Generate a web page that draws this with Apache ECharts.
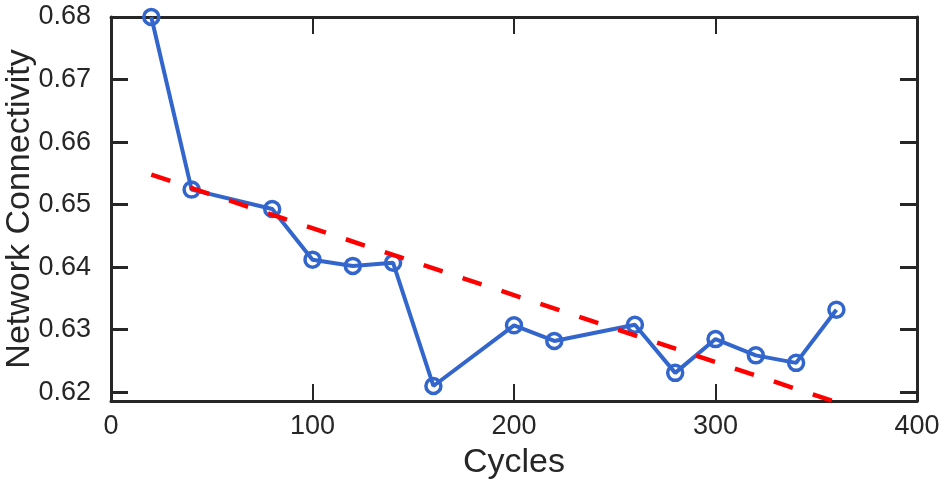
<!DOCTYPE html>
<html>
<head>
<meta charset="utf-8">
<script src="https://cdn.jsdelivr.net/npm/echarts@6/dist/echarts.min.js"></script>
<style>
  html, body { margin: 0; padding: 0; background: #fff; }
  #chart { width: 947px; height: 491px; }
</style>
</head>
<body>
<div id="chart"></div>
<script>
// data
var cycles = [20, 40, 80, 100, 120, 140, 160, 200, 220, 260, 280, 300, 320, 340, 360];
var connectivity = [0.6800, 0.6524, 0.6493, 0.6412, 0.6402, 0.6407, 0.6210, 0.6307, 0.6282,
                    0.6308, 0.6231, 0.6285, 0.6259, 0.6247, 0.6332];
var trendX = [20, 360];
var trendY = [0.6548, 0.6184];
var xTicks = [0, 100, 200, 300, 400];
var yTicks = [0.62, 0.63, 0.64, 0.65, 0.66, 0.67, 0.68];

var ink = '#262626';
var font = 'Liberation Sans, Arial, Helvetica, sans-serif';

var mainPts = cycles.map(function (c, i) { return [c, connectivity[i]]; });
var trendPts = trendX.map(function (c, i) { return [c, trendY[i]]; });

var chart = echarts.init(document.getElementById('chart'));

function xAx(pos, withLabels) {
  return {
    type: 'value', position: pos, min: 0, max: 400,
    name: withLabels ? 'Cycles' : '',
    nameLocation: 'middle', nameGap: 45, nameMoveOverlap: false,
    nameTextStyle: { color: ink, fontSize: 34, fontFamily: font },
    axisLine: { show: true, onZero: false, lineStyle: { color: ink, width: 3 } },
    axisTick: { show: true, inside: true, length: 17, lineStyle: { color: ink, width: 2 }, customValues: xTicks },
    axisLabel: { show: withLabels, color: ink, fontSize: 27, fontFamily: font, margin: 12, customValues: xTicks },
    splitLine: { show: false }
  };
}

function yAx(pos, withLabels) {
  return {
    type: 'value', position: pos, min: 0.6186, max: 0.68,
    name: withLabels ? 'Network Connectivity' : '',
    nameLocation: 'middle', nameGap: 74, nameMoveOverlap: false,
    nameTextStyle: { color: ink, fontSize: 34, fontFamily: font },
    axisLine: { show: true, onZero: false, lineStyle: { color: ink, width: 3 } },
    axisTick: { show: true, inside: true, length: 17, lineStyle: { color: ink, width: 3 }, customValues: yTicks },
    axisLabel: {
      show: withLabels, color: ink, fontSize: 27, fontFamily: font, margin: 20,
      customValues: yTicks,
      formatter: function (v) { return v.toFixed(2); }
    },
    splitLine: { show: false }
  };
}

var option = {
  animation: false,
  backgroundColor: '#fff',
  grid: { left: 111, right: 30, top: 17, bottom: 90, containLabel: false, outerBoundsMode: 'none' },
  xAxis: [xAx('bottom', true), xAx('top', false)],
  yAxis: [yAx('left', true), yAx('right', false)],
  series: [
    {
      type: 'line',
      data: mainPts,
      symbol: 'circle',
      symbolSize: 15,
      lineStyle: { color: '#3366cc', width: 4 },
      itemStyle: { color: 'rgba(0,0,0,0)', borderColor: '#3366cc', borderWidth: 3.5 },
      z: 3
    },
    {
      type: 'line',
      data: trendPts,
      symbol: 'none',
      lineStyle: { color: '#ff0000', width: 4.5, type: [20, 21] },
      z: 4
    }
  ]
};

chart.setOption(option);
</script>
</body>
</html>
